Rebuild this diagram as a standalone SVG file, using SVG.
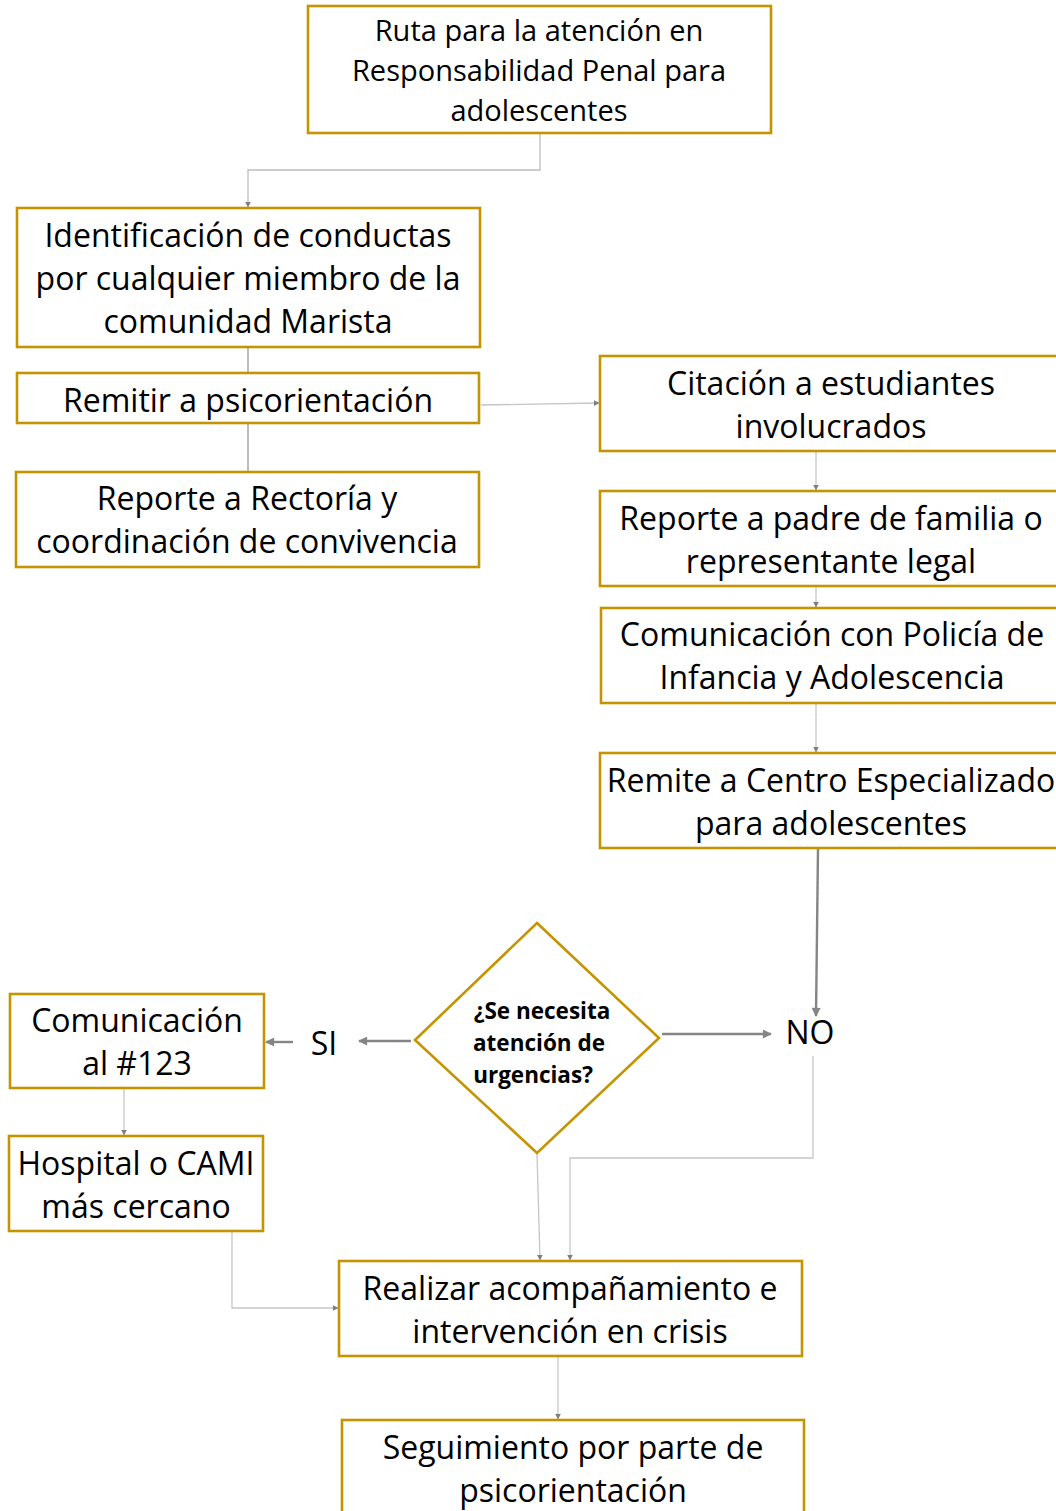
<svg xmlns="http://www.w3.org/2000/svg" width="1056" height="1511" viewBox="0 0 1056 1511">
<defs>
<style>
.box{fill:#fff;stroke:#C49500;stroke-width:2.6}
.t{font-family:"Open Sans","Noto Sans",sans-serif;fill:#000;text-anchor:middle;dominant-baseline:central}
.big{font-size:32px}
.ttl{font-size:29px}
.dec{font-size:22.5px;font-weight:bold}
.thin{fill:none;stroke:#c6c6c6;stroke-width:1.3}
.thick{fill:none;stroke:#858585;stroke-width:2.4}
</style>
<marker id="as" viewBox="0 0 10 10" refX="9" refY="5" markerWidth="6" markerHeight="6" markerUnits="userSpaceOnUse" orient="auto"><path d="M0,0 L10,5 L0,10 z" fill="#7f7f7f"/></marker>
<marker id="al" viewBox="0 0 10 10" refX="9" refY="5" markerWidth="11" markerHeight="9" markerUnits="userSpaceOnUse" orient="auto"><path d="M0,0 L10,5 L0,10 z" fill="#858585"/></marker>
</defs>
<g id="connectors">
<path class="thin" d="M540,134 V170 H248 V207" marker-end="url(#as)" style="stroke:#bdbdbd"/>
<path class="thin" d="M248,348 V373" style="stroke:#999"/>
<path class="thin" d="M248,424 V472" style="stroke:#999"/>
<path class="thin" d="M481,405 L599,403" marker-end="url(#as)"/>
<path class="thin" d="M816,452 V490" marker-end="url(#as)"/>
<path class="thin" d="M816,587 V607" marker-end="url(#as)"/>
<path class="thin" d="M816,704 V752" marker-end="url(#as)"/>
<path class="thick" d="M818,849 L816,1016" marker-end="url(#al)"/>
<path class="thick" d="M411,1041 H359" marker-end="url(#al)"/>
<path class="thick" d="M293,1042 H266" marker-end="url(#al)"/>
<path class="thick" d="M662,1034 H771" marker-end="url(#al)"/>
<path class="thin" d="M813,1056 V1158 H570 V1260" marker-end="url(#as)"/>
<path class="thin" d="M537,1154 L540,1260" marker-end="url(#as)"/>
<path class="thin" d="M124,1089 V1135" marker-end="url(#as)"/>
<path class="thin" d="M232,1232 V1308 H338" marker-end="url(#as)"/>
<path class="thin" d="M558,1357 V1419" marker-end="url(#as)"/>
</g>
<g id="n1"><rect class="box" x="308" y="6" width="463" height="127"/>
<text class="t ttl" x="539" y="29">Ruta para la atención en</text>
<text class="t ttl" x="539" y="69">Responsabilidad Penal para</text>
<text class="t ttl" x="539" y="109">adolescentes</text></g>
<g id="n2"><rect class="box" x="17" y="208" width="463" height="139"/>
<text class="t big" x="248" y="234">Identificación de conductas</text>
<text class="t big" x="248" y="277">por cualquier miembro de la</text>
<text class="t big" x="248" y="320">comunidad Marista</text></g>
<g id="n3"><rect class="box" x="17" y="373" width="462" height="50"/>
<text class="t big" x="248" y="399">Remitir a psicorientación</text></g>
<g id="n4"><rect class="box" x="16" y="472" width="463" height="95"/>
<text class="t big" x="247" y="497">Reporte a Rectoría y</text>
<text class="t big" x="247" y="540">coordinación de convivencia</text></g>
<g id="n5"><rect class="box" x="600" y="356" width="463" height="95"/>
<text class="t big" x="831" y="382">Citación a estudiantes</text>
<text class="t big" x="831" y="425">involucrados</text></g>
<g id="n6"><rect class="box" x="600" y="491" width="463" height="95"/>
<text class="t big" x="831" y="517">Reporte a padre de familia o</text>
<text class="t big" x="831" y="560">representante legal</text></g>
<g id="n7"><rect class="box" x="601" y="608" width="463" height="95"/>
<text class="t big" x="832" y="633">Comunicación con Policía de</text>
<text class="t big" x="832" y="676">Infancia y Adolescencia</text></g>
<g id="n8"><rect class="box" x="600" y="753" width="463" height="95"/>
<text class="t big" x="831" y="779">Remite a Centro Especializado</text>
<text class="t big" x="831" y="822">para adolescentes</text></g>
<g id="n9"><path class="box" d="M537,923 L659,1038 L537,1153 L415,1040 Z"/>
<text class="t dec" x="542" y="1010">¿Se necesita</text>
<text class="t dec" x="539" y="1042">atención de</text>
<text class="t dec" x="533" y="1074">urgencias?</text></g>
<g id="si"><text class="t big" x="324" y="1042">SI</text></g>
<g id="no"><text class="t big" x="810" y="1031">NO</text></g>
<g id="n10"><rect class="box" x="10" y="994" width="254" height="94"/>
<text class="t big" x="137" y="1019">Comunicación</text>
<text class="t big" x="137" y="1062">al #123</text></g>
<g id="n11"><rect class="box" x="9" y="1136" width="254" height="95"/>
<text class="t big" x="136" y="1162">Hospital o CAMI</text>
<text class="t big" x="136" y="1205">más cercano</text></g>
<g id="n12"><rect class="box" x="339" y="1261" width="463" height="95"/>
<text class="t big" x="570" y="1287">Realizar acompañamiento e</text>
<text class="t big" x="570" y="1330">intervención en crisis</text></g>
<g id="n13"><rect class="box" x="342" y="1420" width="462" height="100"/>
<text class="t big" x="573" y="1446">Seguimiento por parte de</text>
<text class="t big" x="573" y="1489">psicorientación</text></g>
</svg>
